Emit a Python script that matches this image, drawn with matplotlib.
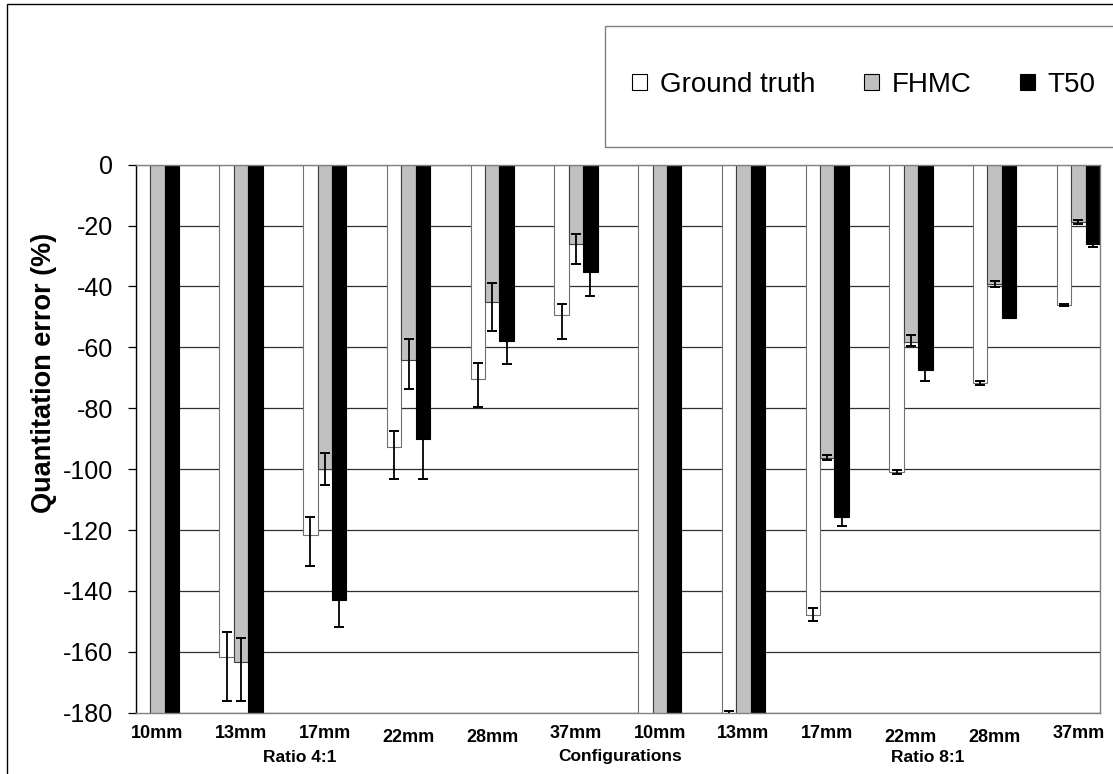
import numpy as np
import matplotlib
matplotlib.use("Agg")
import matplotlib.pyplot as plt
from matplotlib.patches import Rectangle, Patch

plt.rcParams["font.family"] = ["Liberation Sans", "DejaVu Sans"]
plt.rcParams["axes.unicode_minus"] = False

sizes = ["10mm", "13mm", "17mm", "22mm", "28mm", "37mm",
         "10mm", "13mm", "17mm", "22mm", "28mm", "37mm"]
ratios = ["Ratio 4:1", "Configurations", "Ratio 8:1"]

# values below -180 are cut off by the axis in the original
ground_truth = [-200, -161.6, -121.7, -92.7, -70.4, -49.4,
                -200, -181.0, -147.9, -100.9, -71.6, -46.0]
gt_lo = [0, 14.4, 10.0, 10.4, 9.2, 7.9, 0, 1.5, 2.1, 0.6, 0.6, 0.4]
gt_hi = [0, 8.0, 6.1, 5.2, 5.2, 3.8, 0, 1.5, 2.3, 0.6, 0.6, 0.4]

fhmc = [-200, -163.5, -100.0, -64.0, -45.2, -26.0,
        -200, -200, -96.3, -58.3, -39.3, -18.9]
fhmc_lo = [0, 12.7, 5.2, 9.8, 9.5, 6.7, 0, 0, 0.8, 1.3, 0.8, 0.6]
fhmc_hi = [0, 7.9, 5.4, 6.7, 6.2, 3.3, 0, 0, 0.8, 2.5, 1.2, 0.6]

t50 = [-200, -200, -142.9, -90.0, -57.8, -35.4,
       -200, -200, -115.6, -67.5, -50.2, -26.2]
t50_err = [0, 0, 8.8, 13.1, 7.6, 7.7, 0, 0, 3.1, 3.7, 0.3, 0.8]

W, H = 1113, 774
fig = plt.figure(figsize=(W / 100, H / 100), dpi=100)
ax = fig.add_axes([135.7 / W, 1 - 712.7 / H, (1100 - 135.7) / W, (712.7 - 164.7) / H])

x = np.arange(len(sizes))
w = 0.172
series = [
    (ground_truth, gt_lo, gt_hi, "white", "#707070", "Ground truth"),
    (fhmc, fhmc_lo, fhmc_hi, "#c0c0c0", "#404040", "FHMC"),
    (t50, t50_err, t50_err, "black", "black", "T50"),
]
for k, (vals, lo, hi, fc, ec, name) in enumerate(series):
    xs = x + (k - 1) * w
    ax.bar(xs, vals, w, color=fc, edgecolor=ec, linewidth=0.8, zorder=2, label=name)
for k, (vals, lo, hi, fc, ec, name) in enumerate(series):
    xs = x + (k - 1) * w
    ax.errorbar(xs, vals, yerr=[lo, hi], fmt="none", ecolor="black",
                elinewidth=1.3, capsize=3.3, capthick=1.4, zorder=4)

ax.set_ylim(-180, 0)
ax.set_xlim(-1.5 * w, len(sizes) - 1 + 1.5 * w)
ax.set_yticks(np.arange(-180, 1, 20))
ax.yaxis.grid(True, color="#303030", linewidth=0.9, zorder=0)
ax.set_axisbelow(True)
ax.tick_params(axis="y", labelsize=18, length=6, width=0.9, pad=10, direction="out")
ax.tick_params(axis="x", bottom=False, labelbottom=False)
for s in ["top", "right", "bottom"]:
    ax.spines[s].set_color("#808080")
    ax.spines[s].set_linewidth(1.0)
ax.spines["left"].set_color("black")
ax.spines["left"].set_linewidth(1.0)

# category labels under the plot
low = {"22mm", "28mm"}
for i, s in enumerate(sizes):
    yy = 738 if s in low else 733
    xc = ax.transData.transform((x[i], 0))[0]
    fig.text(xc / W, 1 - yy / H, s, ha="center", va="center",
             fontsize=13, fontweight="bold")
for label, xp in zip(ratios, [300, 620, 928]):
    fig.text(xp / W, 1 - 757 / H, label, ha="center", va="center",
             fontsize=12.5, fontweight="bold")

fig.text(44 / W, 1 - 373 / H, "Quantitation error (%)", rotation=90,
         ha="center", va="center", fontsize=19.5, fontweight="bold")

# chart frame and legend box
fig.patches.append(Rectangle((7 / W, -0.1), 1.2, 1 - 4 / H + 0.1, transform=fig.transFigure,
                             fill=False, edgecolor="black", linewidth=1.0))
fig.patches.append(Rectangle((605 / W, 1 - 147 / H), 0.6, (147 - 25.7) / H,
                             transform=fig.transFigure, fill=False,
                             edgecolor="#808080", linewidth=1.0))

handles = [Patch(facecolor=fc, edgecolor="black", linewidth=0.8, label=name)
           for (_, _, _, fc, _, name) in series]
fig.legend(handles=handles, loc="center left", bbox_to_anchor=(632 / W, 1 - 85 / H),
           ncol=3, frameon=False, fontsize=20, borderpad=0, borderaxespad=0,
           handlelength=0.55, handleheight=0.48, handletextpad=0.45, columnspacing=1.75)

fig.savefig("out.png", dpi=100)
